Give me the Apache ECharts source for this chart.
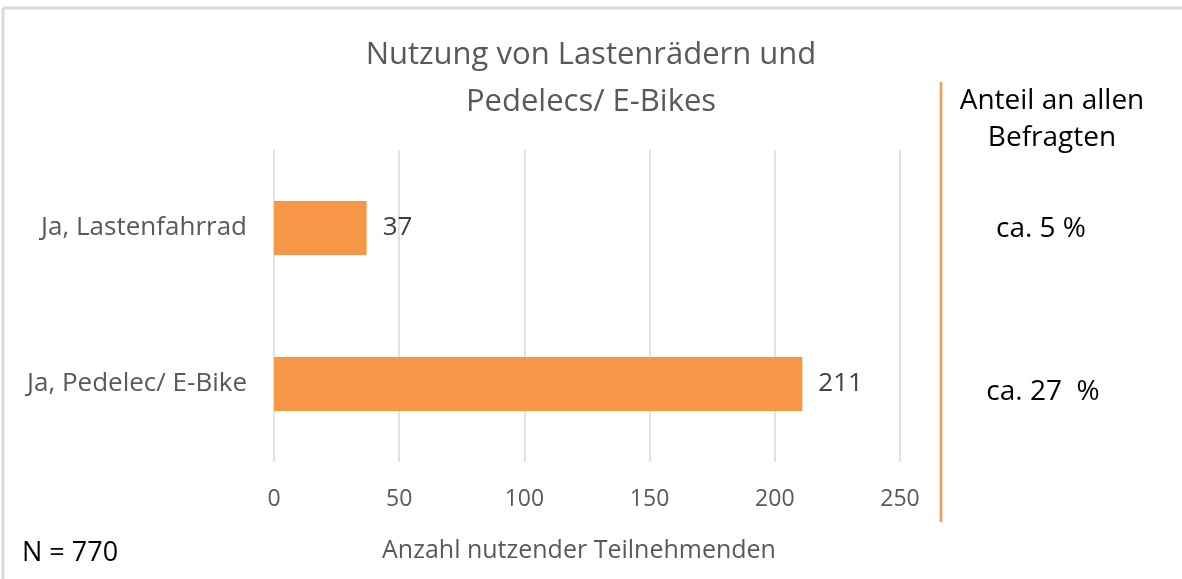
<!DOCTYPE html>
<html>
<head>
<meta charset="utf-8">
<script src="https://cdn.jsdelivr.net/npm/echarts@6/dist/echarts.min.js"></script>
<style>
  html, body { margin: 0; padding: 0; background: #fff; }
  #chart { width: 1182px; height: 579px; }
</style>
</head>
<body>
<div id="chart"></div>
<script>
var categories = ['Ja, Lastenfahrrad', 'Ja, Pedelec/ E-Bike'];
var counts = [37, 211];
var shares = ['ca. 5 %', 'ca. 27  %'];
var xTicks = { min: 0, max: 250, interval: 50 };

var font = '"Open Sans", sans-serif';
var grey = '#595959';
var orange = '#F79646';

var myChart = echarts.init(document.getElementById('chart'));
var option = {
  backgroundColor: '#fff',
  textStyle: { fontFamily: font },
  title: {
    text: 'Nutzung von Lastenrädern und\nPedelecs/ E-Bikes',
    left: 'center',
    top: 27,
    textStyle: { fontSize: 31, fontWeight: 'normal', color: grey, lineHeight: 47, fontFamily: font }
  },
  grid: { left: 274, right: 282, top: 150, bottom: 117 },
  xAxis: {
    type: 'value',
    min: xTicks.min,
    max: xTicks.max,
    interval: xTicks.interval,
    name: 'Anzahl nutzender Teilnehmenden',
    nameLocation: 'middle',
    nameGap: 76,
    nameTextStyle: { fontSize: 25, color: grey, fontFamily: font, padding: [0, 16, 0, 0] },
    axisLine: { show: false },
    axisTick: { show: false },
    axisLabel: { fontSize: 23, color: grey, margin: 26, fontFamily: font },
    splitLine: { lineStyle: { color: '#d9d9d9', width: 1.5 } }
  },
  yAxis: {
    type: 'category',
    inverse: true,
    data: categories,
    axisLine: { show: false },
    axisTick: { show: false },
    axisLabel: { fontSize: 26, color: grey, margin: 27, fontFamily: font }
  },
  series: [{
    type: 'bar',
    data: counts,
    barWidth: 54,
    itemStyle: { color: orange },
    label: { show: true, position: 'right', distance: 16, fontSize: 26, color: '#404040', fontFamily: font }
  }],
  graphic: [
    { type: 'line', shape: { x1: 3, y1: 8, x2: 1182, y2: 8 }, style: { stroke: '#d9d9d9', lineWidth: 3 } },
    { type: 'line', shape: { x1: 3, y1: 8, x2: 3, y2: 579 }, style: { stroke: '#d9d9d9', lineWidth: 3 } },
    { type: 'line', shape: { x1: 941, y1: 82, x2: 941, y2: 522 }, style: { stroke: orange, lineWidth: 2.5 } },
    { type: 'text', x: 1052, y: 101, style: { text: 'Anteil an allen', align: 'center', verticalAlign: 'middle', fontSize: 28, fill: '#000', fontFamily: font } },
    { type: 'text', x: 1052, y: 138, style: { text: 'Befragten', align: 'center', verticalAlign: 'middle', fontSize: 28, fill: '#000', fontFamily: font } },
    { type: 'text', x: 1041, y: 229, style: { text: shares[0], align: 'center', verticalAlign: 'middle', fontSize: 28, fill: '#000', fontFamily: font } },
    { type: 'text', x: 1043, y: 392, style: { text: shares[1], align: 'center', verticalAlign: 'middle', fontSize: 28, fill: '#000', fontFamily: font } },
    { type: 'text', x: 22, y: 553, style: { text: 'N = 770', verticalAlign: 'middle', fontSize: 27, fill: '#000', fontFamily: font } }
  ]
};
myChart.setOption(option);
</script>
</body>
</html>
